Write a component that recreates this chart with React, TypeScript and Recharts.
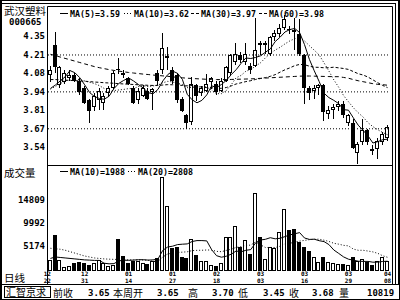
import React from 'react';
import { ComposedChart, Bar, Line, XAxis, YAxis, ReferenceLine } from 'recharts';

// ---- data ----
const opens = [4.06, 4.28, 3.99, 4.01, 4.04, 4.06, 4.02, 3.97, 3.88, 3.83,
  3.88, 3.86, 3.93, 3.97, 4.11, 4.08, 4.04, 3.97, 3.88, 3.91,
  3.95, 3.94, 4.08, 4.10, 4.19, 4.10, 4.06, 3.89, 3.77, 3.72,
  3.99, 3.93, 3.95, 4.01, 4.00, 3.95, 4.02, 4.08, 4.16, 4.21,
  4.16, 4.13, 4.13, 4.30, 4.28, 4.22, 4.34, 4.36, 4.41, 4.40,
  4.39, 4.36, 4.21, 3.97, 3.95, 3.97, 3.99, 3.78, 3.81, 3.83,
  3.85, 3.71, 3.71, 3.49, 3.57, 3.66, 3.52, 3.52, 3.57, 3.60];
const highs = [4.13, 4.38, 4.13, 4.10, 4.10, 4.08, 4.04, 3.98, 3.89, 3.93,
  3.97, 3.93, 3.98, 4.09, 4.19, 4.10, 4.05, 3.98, 3.97, 3.99,
  3.97, 3.97, 4.10, 4.37, 4.27, 4.12, 4.08, 3.90, 3.78, 4.05,
  4.00, 3.98, 4.07, 4.05, 4.02, 4.04, 4.13, 4.22, 4.30, 4.23,
  4.30, 4.15, 4.48, 4.31, 4.31, 4.35, 4.39, 4.44, 4.50, 4.42,
  4.48, 4.47, 4.22, 3.98, 3.99, 4.00, 4.00, 3.84, 3.85, 3.87,
  3.87, 3.78, 3.74, 3.57, 3.74, 3.67, 3.55, 3.60, 3.65, 3.70];
const lows = [4.01, 4.08, 3.97, 4.00, 4.02, 4.01, 3.92, 3.85, 3.71, 3.80,
  3.81, 3.81, 3.90, 3.96, 4.07, 4.04, 3.99, 3.85, 3.85, 3.90,
  3.88, 3.81, 3.99, 4.07, 4.10, 4.00, 3.86, 3.79, 3.67, 3.70,
  3.87, 3.91, 3.94, 3.96, 3.92, 3.94, 4.01, 4.06, 4.14, 4.15,
  4.14, 4.07, 4.12, 4.21, 4.22, 4.20, 4.31, 4.34, 4.39, 4.36,
  4.25, 4.20, 3.85, 3.88, 3.89, 3.92, 3.73, 3.74, 3.74, 3.80,
  3.75, 3.69, 3.52, 3.41, 3.55, 3.55, 3.48, 3.45, 3.55, 3.58];
const closes = [4.10, 4.12, 4.12, 4.08, 4.06, 4.02, 3.94, 3.86, 3.80, 3.91,
  3.95, 3.91, 3.97, 4.08, 4.10, 4.06, 4.00, 3.86, 3.95, 3.97,
  3.89, 3.96, 4.02, 4.26, 4.20, 4.02, 3.88, 3.80, 3.71, 4.00,
  3.91, 3.97, 4.00, 4.04, 3.94, 4.02, 4.12, 4.21, 4.22, 4.17,
  4.22, 4.10, 4.25, 4.28, 4.30, 4.34, 4.37, 4.41, 4.47, 4.39,
  4.38, 4.22, 3.97, 3.93, 3.97, 3.99, 3.79, 3.81, 3.83, 3.85,
  3.77, 3.77, 3.53, 3.56, 3.66, 3.57, 3.51, 3.58, 3.63, 3.68];
const volumes = [2270, 7440, 2270, 830, 1030, 1650, 1860, 1650, 1240, 1650,
  2270, 1650, 1030, 1240, 6620, 3100, 1650, 2070, 2070, 1650,
  1450, 2070, 2690, 19440, 13440, 4760, 4960, 2900, 2690, 6620,
  3310, 2070, 2070, 1240, 1030, 1650, 7030, 7030, 9310, 4960,
  6410, 3520, 16130, 7030, 2480, 4960, 4760, 8070, 12820, 8480,
  8690, 6000, 4960, 4140, 2900, 1860, 2900, 1860, 1650, 1450,
  1450, 1240, 2900, 2070, 2480, 1860, 1240, 2070, 2900, 2070];

// moving-average values at the left edge, where the window reaches before the first bar
const ma5Lead = [3.965, 3.99, 4.02, 4.05];
const ma10Lead = [3.96, 3.98, 4.0, 4.02, 4.03, 4.035, 4.03, 4.02, 4.01];
const ma30Lead = [4.03, 4.03, 4.028, 4.026, 4.024, 4.022, 4.02, 4.018, 4.015, 4.012,
  4.01, 4.007, 4.005, 4.003, 4.0, 3.998, 3.996, 3.994, 3.992, 3.99,
  3.988, 3.987, 3.987, 3.99, 3.993, 3.992, 3.99, 3.987, 3.984];
const ma60Lead = [4.215, 4.205, 4.195, 4.185, 4.175, 4.165, 4.155, 4.145, 4.135, 4.125,
  4.117, 4.11, 4.103, 4.097, 4.092, 4.087, 4.082, 4.078, 4.074, 4.07,
  4.067, 4.063, 4.06, 4.057, 4.054, 4.05, 4.046, 4.043, 4.04, 4.038,
  4.036, 4.034, 4.032, 4.031, 4.03, 4.03, 4.03, 4.031, 4.032, 4.033,
  4.034, 4.035, 4.037, 4.039, 4.041, 4.043, 4.045, 4.047, 4.049, 4.051,
  4.053, 4.055, 4.056, 4.056, 4.055, 4.054, 4.053, 4.052, 4.051];
const vma10Lead = [2600, 2900, 2800, 2700, 2600, 2500, 2400, 2300, 2250];
const vma20Lead = [4700, 4600, 4500, 4300, 4000, 3700, 3400, 3100, 2900, 2700,
  2600, 2500, 2450, 2400, 2400, 2350, 2300, 2300, 2280];

const priceTicks = [3.54, 3.67, 3.81, 3.94, 4.08, 4.21, 4.35];
const priceGrid = [3.67, 3.94, 4.21];
const volTicks = [5174, 9992, 14809];
const dateIdx = [0, 7, 16, 25, 34, 43, 52, 61, 69];
const dateTop = ['12', '12', '01', '01', '02', '03', '03', '03', '04'];
const dateBot = ['22', '31', '14', '27', '18', '03', '16', '29', '08'];

const stockName = '武汉塑料';
const stockCode = '000665';
// dash: '' solid, '1 2' dotted, '3 2' dashed
const priceLegend = [
  { dash: '', text: 'MA(5)=3.59', x: 60 },
  { dash: '1 2', text: 'MA(10)=3.62', x: 124 },
  { dash: '3 2', text: 'MA(30)=3.97', x: 191 },
  { dash: '3 2', text: 'MA(60)=3.98', x: 259 },
];
const volLegend = [
  { dash: '', text: 'MA(10)=1988', x: 60 },
  { dash: '1 2', text: 'MA(20)=2808', x: 128 },
];
const footer = [
  { t: '前收', x: 53, cjk: true }, { t: '3.65', x: 88 }, { t: '本周开', x: 113, cjk: true }, { t: '3.65', x: 157 },
  { t: '高', x: 188, cjk: true }, { t: '3.70', x: 212 }, { t: '低', x: 238, cjk: true }, { t: '3.45', x: 263 },
  { t: '收', x: 289, cjk: true }, { t: '3.68', x: 312 }, { t: '量', x: 339, cjk: true }, { t: '10819', x: 367 },
];

// ---- derived rows ----
const movingAvg = (arr: number[], n: number, lead: number[]) =>
  arr.map((_, i) => {
    if (i < n - 1) return lead[i];
    let s = 0;
    for (let k = i - n + 1; k <= i; k++) s += arr[k];
    return s / n;
  });
const ma5 = movingAvg(closes, 5, ma5Lead);
const ma10 = movingAvg(closes, 10, ma10Lead);
const ma30 = movingAvg(closes, 30, ma30Lead);
const ma60 = movingAvg(closes, 60, ma60Lead);
const vma10 = movingAvg(volumes, 10, vma10Lead);
const vma20 = movingAvg(volumes, 20, vma20Lead);

const rows = closes.map((c, i) => ({
  i,
  o: opens[i], h: highs[i], l: lows[i], c,
  range: [lows[i], highs[i]],
  vol: volumes[i],
  up: c >= opens[i],
  ma5: ma5[i], ma10: ma10[i], ma30: ma30[i], ma60: ma60[i],
  vma10: vma10[i], vma20: vma20[i],
}));

const MONO = '"DejaVu Sans Mono", monospace';
const CJK = '"Noto Sans CJK SC", sans-serif';

const Candle = (props: any) => {
  const { x, y, width, height, payload } = props;
  if (!payload || height == null) return null;
  const { o, h, l, c } = payload;
  const ppu = height / (h - l);
  const yOf = (v: number) => y + (h - v) * ppu;
  const cx = Math.floor(x + width / 2) + 0.5;
  const top = Math.round(yOf(Math.max(o, c)));
  const bot = Math.round(yOf(Math.min(o, c)));
  const up = c >= o;
  return (
    <g>
      <line x1={cx} x2={cx} y1={Math.round(y)} y2={Math.round(y + height)} stroke="#000" strokeWidth={1} />
      {up ? (
        <rect x={cx - 2} y={top + 0.5} width={3} height={Math.max(bot - top - 1, 1)} fill="#fff" stroke="#000" strokeWidth={1} />
      ) : (
        <rect x={cx - 2.5} y={top} width={4} height={Math.max(bot - top, 1)} fill="#000" />
      )}
    </g>
  );
};

const VolBar = (props: any) => {
  const { x, y, width, height, payload } = props;
  if (!payload || height == null) return null;
  const cx = Math.floor(x + width / 2) + 0.5;
  const top = Math.round(y);
  const bot = Math.round(y + height);
  return payload.up ? (
    <rect x={cx - 2} y={top + 0.5} width={3} height={Math.max(bot - top - 1, 1)} fill="#fff" stroke="#000" strokeWidth={1} />
  ) : (
    <rect x={cx - 2.5} y={top} width={4} height={Math.max(bot - top, 1)} fill="#000" />
  );
};

const DateTick = (props: any) => {
  const { x, y, payload } = props;
  const k = dateIdx.indexOf(payload.value);
  if (k < 0) return null;
  const anchor = k === 0 ? 'end' : 'middle';
  const tx = k === 0 ? x + 0.5 : x;
  return (
    <g>
      <text x={tx} y={y + 4.5} textAnchor={anchor} fontFamily={MONO} fontWeight="bold" fontSize={6} fill="#000">{dateTop[k]}</text>
      <text x={tx} y={y + 11.5} textAnchor={anchor} fontFamily={MONO} fontWeight="bold" fontSize={6} fill="#000">{dateBot[k]}</text>
    </g>
  );
};

const axisTick = { fontSize: 9, fontWeight: 'bold', fontFamily: MONO, fill: '#000' } as any;

const LegendItem = ({ x, y, dash, text }: { x: number; y: number; dash: string; text: string }) => (
  <g>
    <line x1={x} x2={x + 8} y1={y - 3.5} y2={y - 3.5} stroke="#000" strokeWidth={1} strokeDasharray={dash || undefined} />
    <text x={x + 10} y={y} fontFamily={MONO} fontWeight="bold" fontSize={8.3} fill="#000">{text}</text>
  </g>
);

export default function App() {
  return (
    <div style={{ position: 'fixed', left: 0, top: 0, width: 400, height: 300, background: '#fff', overflow: 'hidden' }}>
      <div style={{ position: 'absolute', left: 0, top: 0 }}>
        <ComposedChart width={400} height={165} data={rows} margin={{ top: 7, right: 10, bottom: 0, left: 0 }}>
          <XAxis dataKey="i" type="category" hide />
          <YAxis type="number" domain={[3.405, 4.561]} ticks={priceTicks} interval={0} width={48}
            axisLine={false} tickLine={false} tickSize={0} tickMargin={3} tick={axisTick}
            tickFormatter={(v: number) => v.toFixed(2)} allowDataOverflow />
          {priceGrid.map((g) => (
            <ReferenceLine key={g} y={g} stroke="#000" strokeDasharray="1 2" />
          ))}
          <Line dataKey="ma60" stroke="#000" strokeWidth={1} strokeDasharray="4 3" dot={false} isAnimationActive={false} />
          <Line dataKey="ma30" stroke="#000" strokeWidth={1} strokeDasharray="3 2" dot={false} isAnimationActive={false} />
          <Line dataKey="ma10" stroke="#000" strokeWidth={1} strokeDasharray="1 2" dot={false} isAnimationActive={false} />
          <Line dataKey="ma5" stroke="#000" strokeWidth={1} dot={false} isAnimationActive={false} />
          <Bar dataKey="range" barSize={5} shape={(p: any) => <Candle {...p} />} isAnimationActive={false} />
        </ComposedChart>
      </div>
      <div style={{ position: 'absolute', left: 0, top: 165 }}>
        <ComposedChart width={400} height={120} data={rows} margin={{ top: 0, right: 10, bottom: 0, left: 0 }}>
          <XAxis dataKey="i" type="category" interval={0} height={14} axisLine={false} tickLine={false}
            tickSize={0} tickMargin={0} tick={(p: any) => <DateTick {...p} />} />
          <YAxis type="number" domain={[0, 21920]} ticks={volTicks} interval={0} width={48}
            axisLine={false} tickLine={false} tickSize={0} tickMargin={3} tick={axisTick} allowDataOverflow />
          <Bar dataKey="vol" barSize={5} shape={(p: any) => <VolBar {...p} />} isAnimationActive={false} />
          <Line dataKey="vma10" stroke="#000" strokeWidth={1} dot={false} isAnimationActive={false} />
          <Line dataKey="vma20" stroke="#000" strokeWidth={1} strokeDasharray="1 2" dot={false} isAnimationActive={false} />
        </ComposedChart>
      </div>
      <svg width={400} height={300} style={{ position: 'absolute', left: 0, top: 0, pointerEvents: 'none' }}>
        {/* outer frames */}
        <rect x={0.5} y={0.5} width={399} height={299} fill="none" stroke="#000" strokeWidth={1} />
        <line x1={1.5} y1={0} x2={1.5} y2={300} stroke="#000" />
        <line x1={398.5} y1={0} x2={398.5} y2={285} stroke="#000" />
        <line x1={0} y1={3.5} x2={396} y2={3.5} stroke="#000" />
        <line x1={395.5} y1={3.5} x2={395.5} y2={285} stroke="#000" />
        {/* plot box */}
        <line x1={47.5} y1={6.5} x2={392.5} y2={6.5} stroke="#000" />
        <line x1={47.5} y1={6.5} x2={47.5} y2={284.5} stroke="#000" />
        <line x1={392.5} y1={6.5} x2={392.5} y2={284.5} stroke="#000" />
        <line x1={47.5} y1={165.5} x2={392.5} y2={165.5} stroke="#000" />
        <line x1={0} y1={284.5} x2={400} y2={284.5} stroke="#000" />
        {/* left labels */}
        <text x={4} y={15} fontFamily={CJK} fontSize={10.5} fill="#000">{stockName}</text>
        <text x={9} y={25} fontFamily={MONO} fontWeight="bold" fontSize={9} fill="#000">{stockCode}</text>
        <text x={4} y={177} fontFamily={CJK} fontSize={10.5} fill="#000">成交量</text>
        <text x={4} y={282} fontFamily={CJK} fontSize={10.5} fill="#000">日线</text>
        {/* legends */}
        {priceLegend.map((g) => (
          <LegendItem key={g.text} x={g.x} y={17} dash={g.dash} text={g.text} />
        ))}
        {volLegend.map((g) => (
          <LegendItem key={g.text} x={g.x} y={175} dash={g.dash} text={g.text} />
        ))}
        {/* footer */}
        <rect x={4.5} y={286.5} width={46} height={11} fill="none" stroke="#000" />
        <text x={6} y={296} fontFamily={CJK} fontSize={10} fill="#000">汇智京求</text>
        {footer.map((f, k) => (
          <text key={k} x={f.x} y={f.cjk ? 296.5 : 295.5} fontFamily={f.cjk ? CJK : MONO} fontWeight={f.cjk ? 'normal' : 'bold'}
            fontSize={f.cjk ? 10 : 9} fill="#000">{f.t}</text>
        ))}
      </svg>
    </div>
  );
}
